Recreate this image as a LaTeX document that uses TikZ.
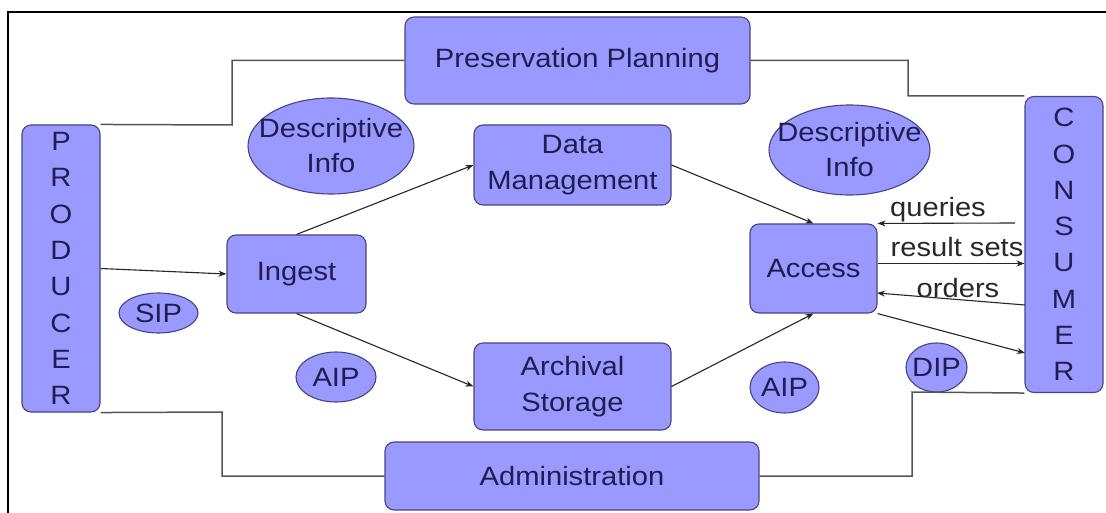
\documentclass[tikz,border=0pt]{standalone}
\usepackage{fontspec}
\setmainfont{Liberation Sans}[FakeStretch=1.1]
\usetikzlibrary{shapes.geometric,arrows.meta}
\definecolor{boxfill}{RGB}{153,153,255}
\definecolor{boxdraw}{RGB}{70,70,130}
\definecolor{txt}{RGB}{30,30,80}
\definecolor{conn}{RGB}{85,85,85}
\definecolor{lbltxt}{RGB}{40,40,40}
\tikzset{
  box/.style={draw=boxdraw, fill=boxfill, rounded corners=9pt, line width=1.1pt,
    text=txt, inner sep=0pt, align=center, font=\fontsize{26.5}{36}\selectfont},
  vbox/.style={box, font=\fontsize{26.5}{36.3}\selectfont},
  oval/.style={ellipse, draw=boxdraw, fill=boxfill, line width=1.1pt, inner sep=0pt},
  ovaltext/.style={text=txt, inner sep=0pt, align=center, font=\fontsize{26.5}{35}\selectfont},
  link/.style={draw=conn, line width=1.5pt},
  arr/.style={draw=black!85, line width=1.1pt, -{Stealth[length=8pt,width=6pt]}},
  lbl/.style={text=lbltxt, inner sep=0pt, anchor=base, font=\fontsize{26.5}{32}\selectfont},
  frame/.style={draw=black, line width=2pt}
}
\begin{document}
\begin{tikzpicture}[x=1pt,y=-1pt]
\useasboundingbox (0,0) rectangle (1106,513);
\fill[white] (0,0) rectangle (1106,513);
\draw[frame] (8,520) -- (8,12) -- (1110,12);

% boxes
\node[vbox, minimum width=78pt, minimum height=287pt] (prod) at (61,268.5) {P\\R\\O\\D\\U\\C\\E\\R};
\node[vbox, minimum width=78pt, minimum height=296pt] (cons) at (1064,244.5) {C\\O\\N\\S\\U\\M\\E\\R};
\node[box, minimum width=345pt, minimum height=87pt] (pp) at (577.5,60.5) {Preservation Planning};
\node[box, minimum width=197pt, minimum height=80pt] (dm) at (572.5,165) {Data\\Management};
\node[box, minimum width=139pt, minimum height=78pt] (ing) at (296.5,274) {Ingest};
\node[box, minimum width=197pt, minimum height=87pt] (as) at (572.5,386.5) {Archival\\Storage};
\node[box, minimum width=127pt, minimum height=89pt] (acc) at (813.5,268.5) {Access};
\node[box, minimum width=374pt, minimum height=68pt] (adm) at (572,476) {Administration};

% ellipses
\node[oval, minimum width=166pt, minimum height=96pt] (di1) at (331,146) {};
\node[ovaltext] (di1t) at (di1) {Descriptive\\Info};
\node[oval, minimum width=161pt, minimum height=90pt] (di2) at (849.5,150) {};
\node[ovaltext] (di2t) at (di2) {Descriptive\\Info};
\node[oval, minimum width=79pt, minimum height=40pt] (sip) at (158.5,313) {};
\node[ovaltext] (sipt) at (sip) {SIP};
\node[oval, minimum width=80pt, minimum height=50pt] (aip1) at (336,377) {};
\node[ovaltext] (aip1t) at (aip1) {AIP};
\node[oval, minimum width=69pt, minimum height=51pt] (aip2) at (784.5,387.5) {};
\node[ovaltext] (aip2t) at (aip2) {AIP};
\node[oval, minimum width=61pt, minimum height=49pt] (dip) at (936.5,367.5) {};
\node[ovaltext] (dipt) at (dip) {DIP};

% management links
\coordinate (b1) at (232,125);
\coordinate (b2) at (908,96);
\coordinate (b3) at (222,412);
\coordinate (b4) at (912,392);
\draw[link] (pp.west) -| (b1) -- (prod.north east);
\draw[link] (pp.east) -| (b2) -- (cons.north west);
\draw[link] (prod.south east) -- (b3) |- (adm.west);
\draw[link] (adm.east) -| (b4) -- (cons.south west);

% flow arrows
\draw[arr] (prod.east) -- (ing.west);
\draw[arr] (ing.north) -- (dm.west);
\draw[arr] (ing.south) -- (as.west);
\draw[arr] (dm.east) -- (acc.north);
\draw[arr] (as.east) -- (acc.south);

% consumer exchanges
\coordinate (q1) at (1015,223);
\coordinate (o1) at (1025,305);
\coordinate (o2) at (877,293);
\coordinate (d1) at (1025,353);
\draw[arr] (q1) -- (acc.north east);
\draw[arr] ([yshift=5pt]acc.east) -- ([yshift=5pt]acc.east -| cons.west);
\draw[arr] (o1) -- (o2);
\draw[arr] (acc.south east) -- (d1);

\node[lbl] (lq) at (938,217) {queries};
\node[lbl] (lr) at (957,257) {result sets};
\node[lbl] (lo) at (958,298) {orders};
\end{tikzpicture}
\end{document}
